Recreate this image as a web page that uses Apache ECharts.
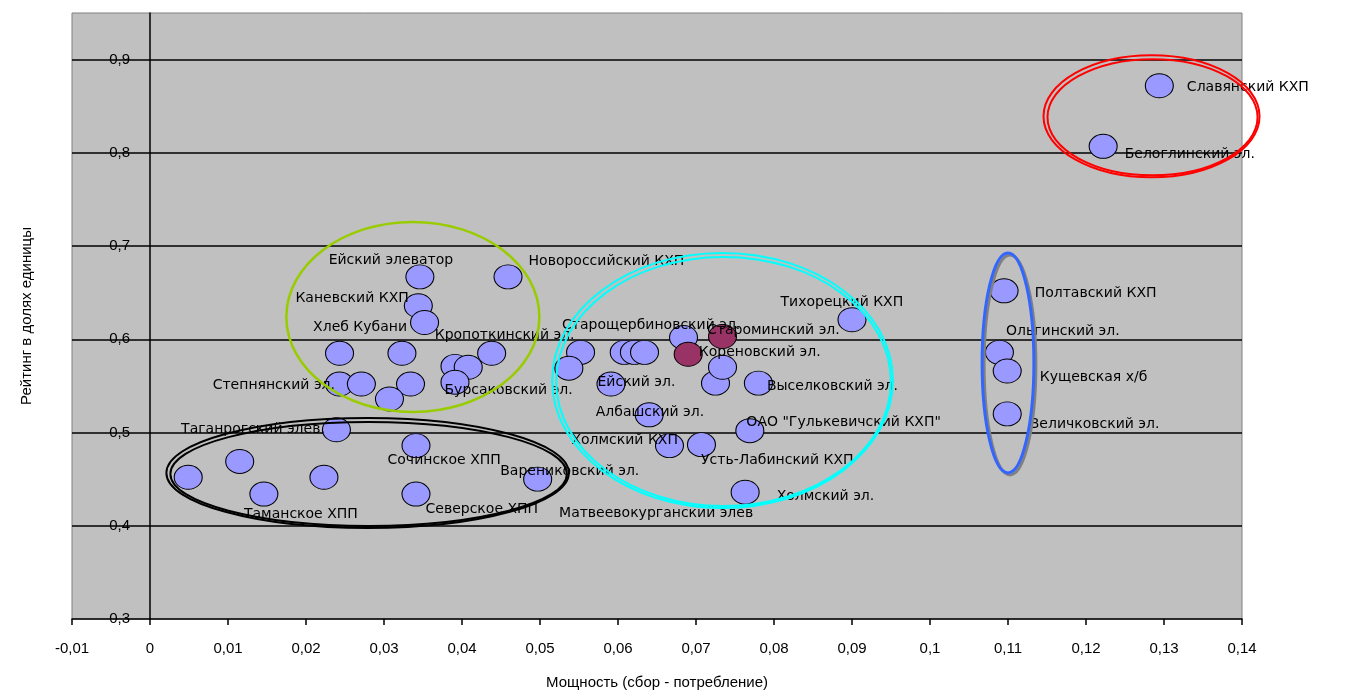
<!DOCTYPE html>
<html>
<head>
<meta charset="utf-8">
<script src="https://cdn.jsdelivr.net/npm/echarts@6/dist/echarts.min.js"></script>
<style>
html,body{margin:0;padding:0;background:#fff;}
#chart{width:1354px;height:691px;}
</style>
</head>
<body>
<div id="chart"></div>
<script>
// ---- data ----
const names = [
  'Славянский КХП','Белоглинский эл.','Полтавский КХП','Ольгинский эл.','Кущевская х/б','Величковский эл.',
  'Ейский элеватор','Новороссийский КХП','Каневский КХП','Хлеб Кубани','','','Кропоткинский эл.','','',
  'Бурсаковский эл.','Степнянский эл.','','','',
  'Таганрогский элев.','','','Таманское ХПП','','Сочинское ХПП','Северское ХПП','Варениковский эл.',
  'Тихорецкий КХП','Староминский эл.','Старощербиновский эл.','Кореновский эл.','','','','','',
  'Ейский эл.','','Выселковский эл.','Матвеевокурганский элев','Албашский эл.','ОАО "Гулькевичский КХП"',
  'Холмский КХП','Усть-Лабинский КХП','Холмский эл.'
];
const xValues = [
  0.1294,0.1222,0.1095,0.1089,0.1099,0.1099,
  0.0346,0.0459,0.0344,0.0352,0.0243,0.0323,0.0438,0.0391,0.0408,
  0.0391,0.0243,0.0271,0.0334,0.0307,
  0.0239,0.0049,0.0115,0.0146,0.0223,0.0341,0.0341,0.0497,
  0.0900,0.0734,0.0684,0.0690,0.0552,0.0608,0.0621,0.0634,0.0537,
  0.0591,0.0725,0.0780,0.0734,0.0640,0.0769,
  0.0666,0.0707,0.0763
];
const yValues = [
  0.872,0.807,0.652,0.586,0.566,0.520,
  0.667,0.667,0.636,0.618,0.585,0.585,0.585,0.571,0.570,
  0.554,0.552,0.552,0.552,0.536,
  0.503,0.452,0.469,0.434,0.452,0.486,0.434,0.450,
  0.621,0.603,0.602,0.584,0.586,0.586,0.586,0.586,0.569,
  0.552,0.553,0.553,0.570,0.519,0.502,
  0.486,0.487,0.436
];
// points drawn in the second (dark) colour
const highlighted = ['Староминский эл.','Кореновский эл.'];

const xTitle = 'Мощность (сбор - потребление)';
const yTitle = 'Рейтинг в долях единицы';

// ---- label placement (style, kept apart from data) ----
const labelPlace = {
  'Славянский КХП':['right',13,2],
  'Белоглинский эл.':['right',7,8],
  'Полтавский КХП':['right',16,3],
  'Ольгинский эл.':['right',-8,-21],
  'Кущевская х/б':['right',18,6],
  'Величковский эл.':['right',8,10],
  'Ейский элеватор':['inside',-29,-16],
  'Новороссийский КХП':['right',6,-15],
  'Каневский КХП':['left',5,-7],
  'Хлеб Кубани':['left',-3,5],
  'Кропоткинский эл.':['inside',13,-18],
  'Бурсаковский эл.':['right',-25,8],
  'Степнянский эл.':['left',10,1],
  'Таганрогский элев.':['left',3,0],
  'Таманское ХПП':['inside',37,20],
  'Сочинское ХПП':['right',-43,15],
  'Северское ХПП':['right',-5,15],
  'Варениковский эл.':['right',-52,-8],
  'Тихорецкий КХП':['right',-86,-17],
  'Староминский эл.':['right',-30,-6],
  'Старощербиновский эл.':['right',-136,-12],
  'Кореновский эл.':['right',-4,-2],
  'Ейский эл.':['right',-28,-2],
  'Выселковский эл.':['right',-6,3],
  'Матвеевокурганский элев':['right',-178,146],
  'Албашский эл.':['right',-68,-2],
  'ОАО "Гулькевичский КХП"':['right',-18,-8],
  'Холмский КХП':['left',23,-5],
  'Усть-Лабинский КХП':['right',-15,16],
  'Холмский эл.':['right',17,4]
};

// annotation ellipses in data units: [cx, cy, rx, ry]
const groupsCenter = [
  [0.1284,0.8392,0.01385,0.0655],
  [0.1100,0.5747,0.00332,0.1180],
  [0.0337,0.6240,0.01622,0.1019],
  [0.0734,0.5559,0.02184,0.1368],
  [0.0279,0.4567,0.02580,0.0590]
];
const groupStyle = [
  {color:'#FF0000', width:2, double:true},
  {color:'#3366FF', width:3, double:false, shadow:true},
  {color:'#99CC00', width:2.5, double:false},
  {color:'#00FFFF', width:2, double:true},
  {color:'#000000', width:2, double:true}
];

const FONT = '"Liberation Sans", Arial, sans-serif';
const LFONT = '"DejaVu Sans", Verdana, sans-serif';
const ellipsePath = 'path://M0,10A10,10 0 1,1 20,10A10,10 0 1,1 0,10Z';

const points = names.map((n, i) => {
  const item = { name: n, value: [xValues[i], yValues[i]] };
  if (highlighted.includes(n)) item.itemStyle = { color: '#993366' };
  const p = labelPlace[n];
  if (n && p) {
    item.label = { show: true, position: p[0], offset: [p[1], p[2]] };
  } else {
    item.label = { show: false };
  }
  return item;
});

function fmtNum(v) {
  return String(+(+v).toFixed(2)).replace('.', ',');
}

const chart = echarts.init(document.getElementById('chart'), null, { renderer: 'canvas' });
chart.setOption({
  animation: false,
  backgroundColor: '#ffffff',
  textStyle: { fontFamily: FONT },
  grid: {
    left: 72, right: 112, top: 13, bottom: 72,
    containLabel: false, outerBoundsMode: 'none',
    show: true, backgroundColor: '#C0C0C0', borderColor: '#808080', borderWidth: 1
  },
  xAxis: {
    type: 'value', min: -0.01, max: 0.14, interval: 0.01,
    name: xTitle, nameLocation: 'middle', nameGap: 56,
    nameTextStyle: { fontSize: 15, color: '#000', fontFamily: FONT },
    axisLine: { onZero: false, lineStyle: { color: '#000', width: 1.5 } },
    axisTick: { show: true, length: 6, lineStyle: { color: '#000', width: 1.5 } },
    axisLabel: { margin: 22, fontSize: 15, color: '#000', fontFamily: FONT, formatter: fmtNum },
    splitLine: { show: false }
  },
  yAxis: {
    type: 'value', min: 0.3, max: 0.95, interval: 0.1,
    name: yTitle, nameLocation: 'middle', nameGap: 38,
    nameTextStyle: { fontSize: 15, color: '#000', fontFamily: FONT },
    axisLine: { onZero: true, lineStyle: { color: '#000', width: 1.5 } },
    axisTick: { show: false },
    axisLabel: {
      margin: -58, fontSize: 15, color: '#000', fontFamily: FONT, showMaxLabel: false,
      formatter: v => (v > 0.94 ? '' : fmtNum(v))
    },
    splitLine: { show: true, showMaxLine: false, showMinLine: false, lineStyle: { color: '#000', width: 1.5 } }
  },
  series: [{
    type: 'scatter',
    symbol: ellipsePath,
    symbolKeepAspect: false,
    symbolSize: [28, 24],
    clip: false,
    itemStyle: { color: '#9999FF', borderColor: '#000', borderWidth: 1, opacity: 1 },
    label: { show: false, position: 'right', distance: 0, formatter: '{b}', fontSize: 14, color: '#000', fontFamily: LFONT },
    emphasis: { disabled: true },
    data: points,
    z: 3
  }]
});

// draw group ellipses through the grid's scales
const graphics = [];
groupsCenter.forEach((g, i) => {
  const c = chart.convertToPixel({ gridIndex: 0 }, [g[0], g[1]]);
  const ex = chart.convertToPixel({ gridIndex: 0 }, [g[0] + g[2], g[1]]);
  const ey = chart.convertToPixel({ gridIndex: 0 }, [g[0], g[1] + g[3]]);
  const rx = Math.abs(ex[0] - c[0]);
  const ry = Math.abs(c[1] - ey[1]);
  const s = groupStyle[i];
  const base = {
    type: 'ellipse', z: 100, silent: true,
    style: { fill: null, stroke: s.color, lineWidth: s.width }
  };
  if (s.shadow) {
    graphics.push(Object.assign({}, base, {
      shape: { cx: c[0] + 2, cy: c[1] + 2, rx: rx, ry: ry },
      style: { fill: null, stroke: '#808080', lineWidth: s.width }
    }));
  }
  graphics.push(Object.assign({}, base, { shape: { cx: c[0], cy: c[1], rx: rx, ry: ry } }));
  if (s.double) {
    graphics.push(Object.assign({}, base, { shape: { cx: c[0] + 1, cy: c[1] + 1, rx: rx - 3, ry: ry - 3 } }));
  }
});
chart.setOption({ graphic: graphics });
</script>
</body>
</html>
